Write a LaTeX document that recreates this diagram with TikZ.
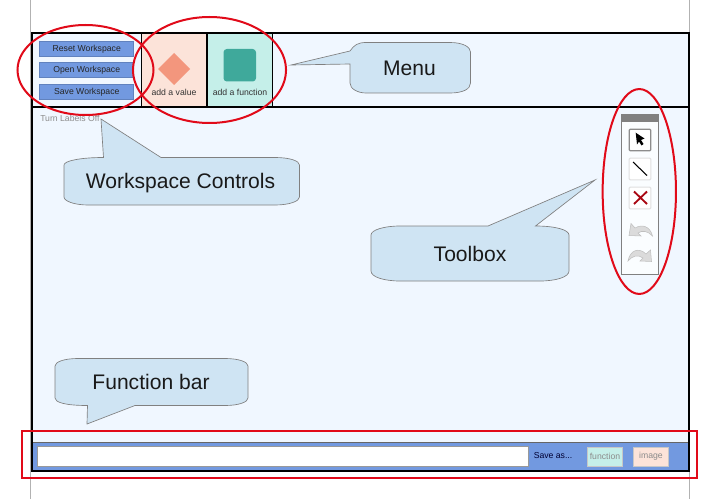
\documentclass[tikz,border=0pt]{standalone}
\usepackage{fontspec}
\setmainfont{Liberation Sans}
\definecolor{paneblue}{RGB}{240,247,255}
\definecolor{btnblue}{RGB}{114,153,224}
\definecolor{tipblue}{RGB}{207,228,243}
\definecolor{valuepink}{RGB}{252,227,217}
\definecolor{valuedia}{RGB}{243,150,125}
\definecolor{funcmint}{RGB}{197,239,233}
\definecolor{functeal}{RGB}{63,169,155}
\definecolor{ringred}{RGB}{225,10,25}
\usetikzlibrary{positioning,shapes.geometric}

\begin{document}
\begin{tikzpicture}[x=0.75pt,y=-0.75pt,
			frame/.style={draw=black,line width=1.5pt},
			wsbtn/.style={draw=btnblue!85!black,fill=btnblue,line width=0.4pt,minimum width=70.5pt,minimum height=11.2pt,inner sep=0pt,text=black!85,font=\fontsize{6.5}{7}\selectfont},
			cellcap/.style={inner sep=0pt,font=\fontsize{6.5}{7}\selectfont,text=black!80},
			toolbtn/.style={draw=black!12,fill=white,line width=0.8pt,rounded corners=0.8pt,minimum size=16.2pt,inner sep=0pt},
			savebtn/.style={draw=black!22,line width=0.5pt,minimum width=26.5pt,minimum height=14.5pt,inner sep=0pt,text=black!45,font=\fontsize{6.5}{7}\selectfont},
			balloon/.style={draw=black!50,fill=tipblue,line width=0.5pt},
			balloontext/.style={inner sep=0pt,text=black!90,font=\fontsize{15.8}{18}\selectfont},
			ring/.style={draw=ringred,line width=1.5pt},
			undoicon/.style={draw=black!25,fill=black!14,line width=0.4pt}]

	\useasboundingbox (0,0) rectangle (717,499);
	\fill[white] (0,0) rectangle (717,499);
	\draw[black!30,line width=0.6pt] (30.5,0)--(30.5,499);
	\draw[black!30,line width=0.6pt] (689,0)--(689,499);

	% panes
	\fill[paneblue] (31.5,33.5) rectangle (689,471);
	\fill[valuepink] (141.5,34) rectangle (207,107);
	\fill[funcmint] (207,34) rectangle (272.5,107);
	\fill[btnblue] (32,442) rectangle (688,471);
	\draw[black!60,line width=0.5pt] (32,442)--(688,442);
	\draw[frame] (31.5,33.5) rectangle (689,471);
	\draw[frame,line width=1.1pt] (31.5,107)--(689,107);
	\draw[frame,line width=1.1pt] (141.5,33.5)--(141.5,107);
	\draw[frame,line width=1.1pt] (207,33.5)--(207,107);
	\draw[frame,line width=1.1pt] (272.5,33.5)--(272.5,107);

	% workspace buttons
	\node[wsbtn,text depth=1.6pt,text height=5.6pt] (reset) at (86.75,48.5) {Reset Workspace};
	\node[wsbtn,text depth=1.6pt,text height=5.6pt] (open) at (86.75,70.2) {Open Workspace};
	\node[wsbtn,text depth=1.6pt,text height=5.6pt] (save) at (86.75,92) {Save Workspace};
	\node[inner sep=0pt,text=black!45,font=\fontsize{6.5}{7}\selectfont,anchor=west] (labels) at (40,118) {Turn Labels Off};

	% add cells
	\fill[valuedia] (174,53)--(190,69)--(174,85)--(158,69)--cycle;
	\fill[functeal,rounded corners=2.5pt] (223.5,49) rectangle (256,81.5);
	\node[cellcap] (addvalue) at (174,92.5) {add a value};
	\node[cellcap] (addfunc) at (240,92.5) {add a function};

	% toolbox
	\draw[black!50,fill=paneblue!30,line width=0.5pt] (621.5,114) rectangle (658,274);
	\fill[black!50] (621.5,114) rectangle (658,122);
	\node[toolbtn,draw=black!45,line width=1pt] (selbtn) at (640,140) {};
	\node[toolbtn] (linebtn) at (640,169) {};
	\node[toolbtn] (delbtn) at (640,198) {};
	\fill[black] (635.7,132.7)--(644.5,138.5)--(641,140)--(643.5,144)--(641.5,145.5)--(639,141.5)--(637,144.5)--cycle;
	\draw[black,line width=0.8pt] (633,162)--(647,175.5);
	\draw[ringred!75!black,line width=1.4pt] (634,191.5)--(647,204);
	\draw[ringred!75!black,line width=1.4pt] (647,191.5)--(634,204);
	\draw[undoicon] (629,235.5)--(631,223.5)--(635,228) .. controls (642,224) and (650,226) .. (652.5,236) .. controls (648,231) and (642,230) .. (638,233)--(641,236)--cycle;
	\draw[undoicon] (651.5,261.5)--(650.5,250)--(646,254) .. controls (639,247) and (630,250) .. (628,261) .. controls (632,256) and (638,254) .. (643,258)--(640,261)--cycle;

	% function bar
	\node[draw=black!40,fill=white,line width=0.5pt,minimum width=368.5pt,minimum height=15pt,inner sep=0pt] (fname) at (282.5,456) {};
	\node[inner sep=0pt,text=black!80!blue,font=\fontsize{6.5}{7}\selectfont,anchor=west] (saveas) at (533.5,456) {Save as...};
	\node[savebtn,fill=funcmint] (savefunc) at (605,456.5) {function};
	\node[savebtn,fill=valuepink] (saveimg) at (651,456.5) {image};

	% balloons
	\draw[balloon] (291,65)--(350,51) .. controls (354,45) and (358,42.5) .. (366,42.5)--(450,42.5) .. controls (463,42.5) and (470.5,47) .. (470.5,52)--(470.5,83) .. controls (470.5,89) and (463,93) .. (450,93)--(366,93) .. controls (358,93) and (350,89) .. (350,83)--(350,64)--cycle;
	\node[balloontext] (menu) at (409.5,68.5) {Menu};

	\draw[balloon] (101,119)--(161,157.5)--(275,157.5) .. controls (290,157.5) and (299.5,161) .. (299.5,165)--(299.5,197) .. controls (299.5,201) and (290,205) .. (275,205)--(88,205) .. controls (74,205) and (64,201) .. (64,197)--(64,165) .. controls (64,161) and (80,157.5) .. (103.5,157.5)--cycle;
	\node[balloontext] (wsctl) at (180.5,183) {Workspace Controls};

	\draw[balloon] (595,180)--(535.5,226) .. controls (556,226) and (569,230) .. (569,235)--(569,271) .. controls (569,277) and (556,281) .. (540,281)--(400,281) .. controls (384,281) and (371,277) .. (371,271)--(371,235) .. controls (371,230) and (384,226) .. (400,226)--(488,226)--cycle;
	\node[balloontext] (toolbox) at (470,254) {Toolbox};

	\draw[balloon] (87,424)--(135,405.5)--(225,405.5) .. controls (239,405.5) and (248,402) .. (248,398)--(248,366) .. controls (248,362) and (239,358.5) .. (225,358.5)--(78,358.5) .. controls (64,358.5) and (55,362) .. (55,366)--(55,398) .. controls (55,402) and (64,405.5) .. (87.5,405.5)--cycle;
	\node[balloontext] (fbar) at (151,382) {Function bar};

	% rings
	\node[ring,ellipse,minimum width=102pt,minimum height=67.5pt,inner sep=0pt] (ringws) at (85.5,70) {};
	\node[ring,ellipse,minimum width=114.8pt,minimum height=79.5pt,inner sep=0pt] (ringadd) at (209.5,70) {};
	\node[ring,ellipse,minimum width=55pt,minimum height=153.7pt,inner sep=0pt] (ringtool) at (639.3,191.5) {};
	\draw[ring] (21.7,431) rectangle (696.7,478);
\end{tikzpicture}
\end{document}
